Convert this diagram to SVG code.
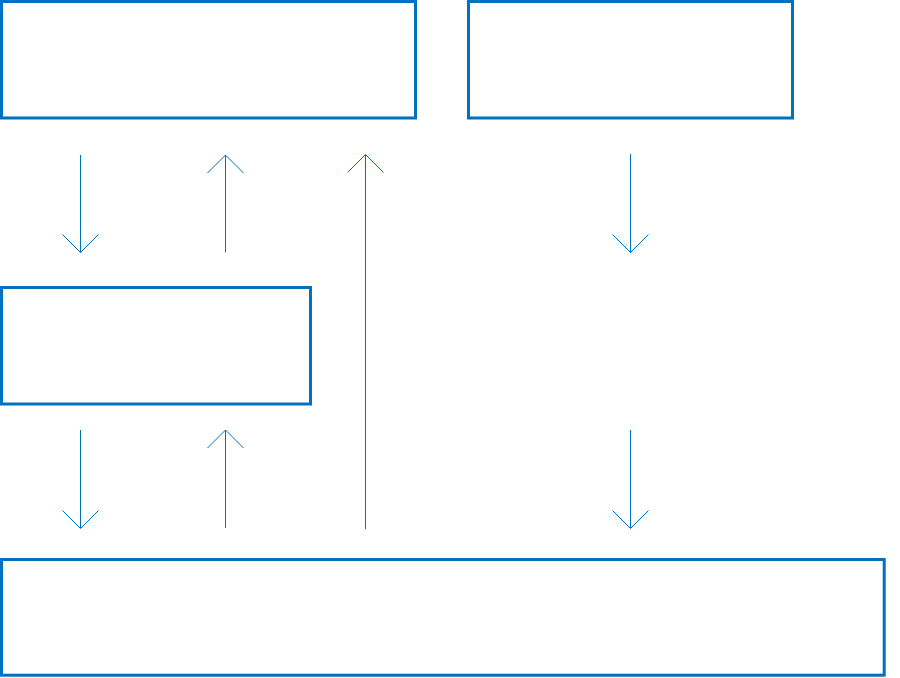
<svg xmlns="http://www.w3.org/2000/svg" width="900" height="678" viewBox="0 0 900 678">
  <style>
    .box { fill: #ffffff; stroke: #0070c0; stroke-width: 3; }
    .conn { fill: none; stroke: #0070c0; stroke-width: 1; }
  </style>
  <defs>
    <marker id="arrow" markerUnits="userSpaceOnUse" markerWidth="40" markerHeight="40" viewBox="-20 -20 40 40" refX="0" refY="0" orient="auto" overflow="visible">
      <path d="M-18,-18 L0,0 L-18,18" fill="none" stroke="#0070c0" stroke-width="1"/>
    </marker>
  </defs>
  <rect width="900" height="678" fill="#ffffff"/>
  <g id="node-top-left"><rect class="box" x="1.5" y="1.5" width="414" height="116.5"/></g>
  <g id="node-top-right"><rect class="box" x="468.5" y="1.5" width="324" height="116.5"/></g>
  <g id="node-middle-left"><rect class="box" x="1.5" y="287.5" width="309" height="116.5"/></g>
  <g id="node-bottom"><rect class="box" x="1.5" y="559.5" width="882.7" height="115.7"/></g>
  <g id="connectors">
    <line class="conn" x1="80.5" y1="155" x2="80.5" y2="252.5" marker-end="url(#arrow)"/>
    <line class="conn" x1="225.5" y1="252.5" x2="225.5" y2="155" marker-end="url(#arrow)"/>
    <line class="conn" x1="365.5" y1="529" x2="365.5" y2="154.5" marker-end="url(#arrow)"/>
    <line class="conn" x1="630.5" y1="154" x2="630.5" y2="252.5" marker-end="url(#arrow)"/>
    <line class="conn" x1="80.5" y1="430" x2="80.5" y2="528.5" marker-end="url(#arrow)"/>
    <line class="conn" x1="225.5" y1="528" x2="225.5" y2="430" marker-end="url(#arrow)"/>
    <line class="conn" x1="630.5" y1="430" x2="630.5" y2="528.5" marker-end="url(#arrow)"/>
  </g>
</svg>
